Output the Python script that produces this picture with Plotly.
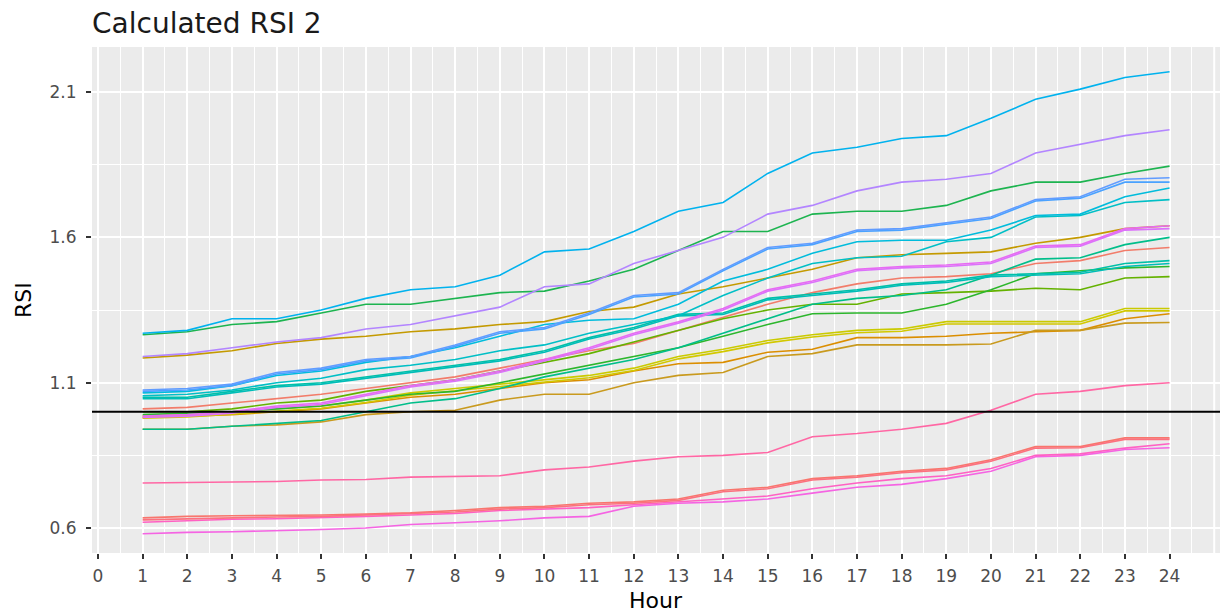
import plotly.graph_objects as go

hours = list(range(1, 25))
x_tick_vals = list(range(0, 25))
y_tick_vals = [0.6, 1.1, 1.6, 2.1]
y_tick_text = ["0.6", "1.1", "1.6", "2.1"]
reference_level = 1.0

cyan_top = [1.27, 1.28, 1.32, 1.32, 1.35, 1.39, 1.42, 1.43, 1.47, 1.55, 1.56, 1.62, 1.69, 1.72, 1.82, 1.89, 1.91, 1.94, 1.95, 2.01, 2.075, 2.11, 2.15, 2.17]
green_top = [1.265, 1.275, 1.30, 1.31, 1.34, 1.37, 1.37, 1.39, 1.41, 1.415, 1.45, 1.49, 1.555, 1.62, 1.62, 1.68, 1.69, 1.69, 1.71, 1.76, 1.79, 1.79, 1.82, 1.845]
purple = [1.19, 1.20, 1.22, 1.24, 1.255, 1.285, 1.30, 1.33, 1.36, 1.43, 1.44, 1.51, 1.555, 1.60, 1.68, 1.71, 1.76, 1.79, 1.80, 1.82, 1.89, 1.92, 1.95, 1.97]
gold = [1.185, 1.195, 1.21, 1.235, 1.25, 1.26, 1.275, 1.285, 1.30, 1.31, 1.345, 1.36, 1.405, 1.43, 1.46, 1.49, 1.53, 1.54, 1.545, 1.55, 1.58, 1.60, 1.63, 1.64]
blue_a = [1.075, 1.08, 1.095, 1.135, 1.15, 1.18, 1.19, 1.23, 1.275, 1.29, 1.34, 1.40, 1.41, 1.49, 1.565, 1.58, 1.625, 1.63, 1.65, 1.67, 1.73, 1.74, 1.80, 1.805]
blue_b = [1.07, 1.075, 1.09, 1.13, 1.145, 1.175, 1.185, 1.225, 1.27, 1.285, 1.335, 1.395, 1.405, 1.485, 1.56, 1.575, 1.62, 1.625, 1.645, 1.665, 1.725, 1.735, 1.79, 1.79]
cyan_mid = [1.065, 1.07, 1.09, 1.125, 1.14, 1.17, 1.19, 1.22, 1.26, 1.30, 1.315, 1.32, 1.37, 1.45, 1.49, 1.545, 1.585, 1.59, 1.59, 1.625, 1.675, 1.68, 1.74, 1.77]
teal_mid = [1.055, 1.06, 1.075, 1.10, 1.115, 1.145, 1.16, 1.18, 1.21, 1.23, 1.27, 1.30, 1.33, 1.40, 1.46, 1.51, 1.53, 1.535, 1.585, 1.60, 1.67, 1.675, 1.72, 1.73]
magenta_a = [0.985, 0.99, 1.0, 1.02, 1.03, 1.06, 1.09, 1.11, 1.14, 1.18, 1.22, 1.27, 1.31, 1.355, 1.42, 1.45, 1.49, 1.50, 1.505, 1.515, 1.57, 1.575, 1.63, 1.64]
magenta_b = [0.98, 0.985, 0.995, 1.015, 1.025, 1.055, 1.085, 1.105, 1.135, 1.175, 1.215, 1.265, 1.305, 1.35, 1.415, 1.445, 1.485, 1.495, 1.50, 1.51, 1.565, 1.57, 1.625, 1.63]
green_teal = [0.94, 0.94, 0.95, 0.96, 0.97, 1.0, 1.03, 1.045, 1.08, 1.12, 1.15, 1.18, 1.22, 1.27, 1.32, 1.37, 1.39, 1.40, 1.42, 1.47, 1.525, 1.53, 1.575, 1.60]
salmon_mid = [1.01, 1.015, 1.03, 1.045, 1.06, 1.08, 1.10, 1.12, 1.15, 1.18, 1.21, 1.235, 1.28, 1.325, 1.37, 1.41, 1.44, 1.46, 1.465, 1.475, 1.51, 1.52, 1.555, 1.565]
teal_a = [1.05, 1.05, 1.07, 1.09, 1.10, 1.12, 1.14, 1.16, 1.18, 1.21, 1.255, 1.29, 1.335, 1.34, 1.39, 1.405, 1.42, 1.44, 1.45, 1.47, 1.475, 1.48, 1.51, 1.52]
teal_b = [1.045, 1.045, 1.065, 1.085, 1.095, 1.115, 1.135, 1.155, 1.175, 1.205, 1.25, 1.285, 1.33, 1.335, 1.385, 1.40, 1.415, 1.435, 1.445, 1.465, 1.47, 1.475, 1.50, 1.51]
green_a = [0.99, 0.995, 1.0, 1.01, 1.02, 1.04, 1.06, 1.07, 1.10, 1.13, 1.16, 1.19, 1.22, 1.26, 1.30, 1.337, 1.34, 1.34, 1.37, 1.42, 1.475, 1.485, 1.495, 1.50]
green_b = [1.0, 1.0, 1.01, 1.03, 1.04, 1.07, 1.09, 1.11, 1.14, 1.17, 1.20, 1.24, 1.28, 1.32, 1.35, 1.37, 1.37, 1.405, 1.41, 1.415, 1.425, 1.42, 1.46, 1.465]
yellow_a = [0.985, 0.99, 1.0, 1.01, 1.02, 1.04, 1.065, 1.08, 1.095, 1.11, 1.125, 1.15, 1.19, 1.215, 1.245, 1.265, 1.28, 1.285, 1.31, 1.31, 1.31, 1.31, 1.355, 1.355]
yellow_b = [0.978, 0.982, 0.992, 1.002, 1.012, 1.032, 1.057, 1.072, 1.087, 1.102, 1.117, 1.142, 1.182, 1.207, 1.237, 1.257, 1.272, 1.277, 1.302, 1.302, 1.302, 1.302, 1.347, 1.347]
orange_a = [0.98, 0.985, 0.99, 1.0, 1.01, 1.03, 1.05, 1.06, 1.08, 1.10, 1.11, 1.14, 1.165, 1.17, 1.205, 1.215, 1.255, 1.255, 1.26, 1.27, 1.275, 1.28, 1.32, 1.337]
orange_b = [0.94, 0.94, 0.95, 0.955, 0.965, 0.99, 1.0, 1.005, 1.04, 1.06, 1.06, 1.10, 1.125, 1.135, 1.19, 1.20, 1.23, 1.23, 1.23, 1.233, 1.28, 1.28, 1.305, 1.307]
pink_mid = [0.755, 0.757, 0.758, 0.76, 0.765, 0.767, 0.775, 0.778, 0.78, 0.80, 0.81, 0.83, 0.845, 0.85, 0.86, 0.914, 0.925, 0.94, 0.96, 1.005, 1.06, 1.07, 1.09, 1.10]
salmon_low_a = [0.635, 0.64, 0.642, 0.643, 0.645, 0.648, 0.652, 0.66, 0.67, 0.675, 0.685, 0.69, 0.70, 0.73, 0.74, 0.77, 0.78, 0.795, 0.805, 0.835, 0.88, 0.88, 0.91, 0.91]
salmon_low_b = [0.628, 0.632, 0.636, 0.638, 0.64, 0.645, 0.65, 0.655, 0.665, 0.67, 0.68, 0.685, 0.695, 0.725, 0.735, 0.765, 0.775, 0.79, 0.80, 0.83, 0.875, 0.876, 0.905, 0.905]
pink_low = [0.62, 0.625, 0.63, 0.632, 0.635, 0.64, 0.645, 0.65, 0.66, 0.665, 0.67, 0.68, 0.69, 0.70, 0.71, 0.735, 0.755, 0.77, 0.78, 0.805, 0.85, 0.855, 0.875, 0.89]
magenta_low = [0.58, 0.585, 0.587, 0.59, 0.595, 0.60, 0.612, 0.618, 0.625, 0.635, 0.64, 0.675, 0.685, 0.69, 0.70, 0.72, 0.74, 0.75, 0.77, 0.795, 0.845, 0.85, 0.87, 0.876]

series = [
    ("salmon_low_a", salmon_low_a, "#F8766D"),
    ("salmon_mid", salmon_mid, "#F27C6A"),
    ("orange_a", orange_a, "#DB8E00"),
    ("orange_b", orange_b, "#C99A1E"),
    ("gold", gold, "#C49A00"),
    ("yellow_a", yellow_a, "#CACA00"),
    ("yellow_b", yellow_b, "#D2C800"),
    ("green_b", green_b, "#64B200"),
    ("green_a", green_a, "#2CB62C"),
    ("green_top", green_top, "#1DB450"),
    ("green_teal", green_teal, "#00BE8A"),
    ("teal_a", teal_a, "#00C0A8"),
    ("teal_b", teal_b, "#00BDB8"),
    ("teal_mid", teal_mid, "#00BFC6"),
    ("cyan_mid", cyan_mid, "#00BCDC"),
    ("cyan_top", cyan_top, "#00B2EE"),
    ("blue_b", blue_b, "#4AA2FF"),
    ("blue_a", blue_a, "#619CFF"),
    ("purple", purple, "#B385FF"),
    ("magenta_b", magenta_b, "#DB72FB"),
    ("magenta_a", magenta_a, "#E76BF3"),
    ("magenta_low", magenta_low, "#F564E3"),
    ("pink_low", pink_low, "#FF61C3"),
    ("pink_mid", pink_mid, "#FF67A4"),
    ("salmon_low_b", salmon_low_b, "#FC717F"),
]

fig = go.Figure()
for name, vals, col in series:
    fig.add_trace(go.Scatter(x=hours, y=vals, mode="lines", name=name,
                             line=dict(color=col, width=1.6), showlegend=False))

fig.add_hline(y=reference_level, line=dict(color="black", width=2), layer="above")
fig.add_shape(type="line", xref="x", yref="paper", x0=25, x1=25, y0=0, y1=1,
              line=dict(color="white", width=2), layer="between")

font_family = "DejaVu Sans, Liberation Sans, Arial, sans-serif"

fig.update_layout(
    width=1224, height=616,
    margin=dict(l=92, r=4, t=47, b=63),
    paper_bgcolor="white",
    plot_bgcolor="#EBEBEB",
    font=dict(family=font_family, color="#4D4D4D", size=17),
    title=dict(text="Calculated RSI 2", x=92/1224, xref="container", xanchor="left",
               y=1-23/616, yref="container", yanchor="middle",
               font=dict(size=28, color="#1A1A1A", family=font_family)),
    xaxis=dict(range=[-0.134, 25.13], tickvals=x_tick_vals,
               ticktext=[str(v) for v in x_tick_vals],
               showgrid=True, gridcolor="white", gridwidth=2,
               zeroline=False, showline=False,
               ticks="outside", ticklen=5, tickwidth=1.5, tickcolor="#333333",
               ticklabelstandoff=3,
               tickfont=dict(size=17, color="#4D4D4D"),
               minor=dict(tickvals=[v + 0.5 for v in x_tick_vals], showgrid=True,
                          gridcolor="white", gridwidth=1, ticks="")),
    yaxis=dict(range=[0.514, 2.255], tickvals=y_tick_vals, ticktext=y_tick_text,
               showgrid=True, gridcolor="white", gridwidth=2,
               zeroline=False, showline=False,
               ticks="outside", ticklen=5, tickwidth=1.5, tickcolor="#333333",
               ticklabelstandoff=6,
               tickfont=dict(size=17, color="#4D4D4D"),
               minor=dict(tickvals=[0.85, 1.35, 1.85], showgrid=True,
                          gridcolor="white", gridwidth=1, ticks="")),
    annotations=[
        dict(text="Hour", xref="paper", yref="paper", x=0.5, y=-0.093,
             xanchor="center", yanchor="middle", showarrow=False,
             font=dict(size=22, color="black", family=font_family)),
        dict(text="RSI", xref="paper", yref="paper", x=-0.0612, y=0.5,
             xanchor="center", yanchor="middle", showarrow=False, textangle=-90,
             font=dict(size=22, color="black", family=font_family)),
    ],
)

fig.write_html("out.html", config={"displayModeBar": False},
               post_script="document.body.style.margin='0px';")
